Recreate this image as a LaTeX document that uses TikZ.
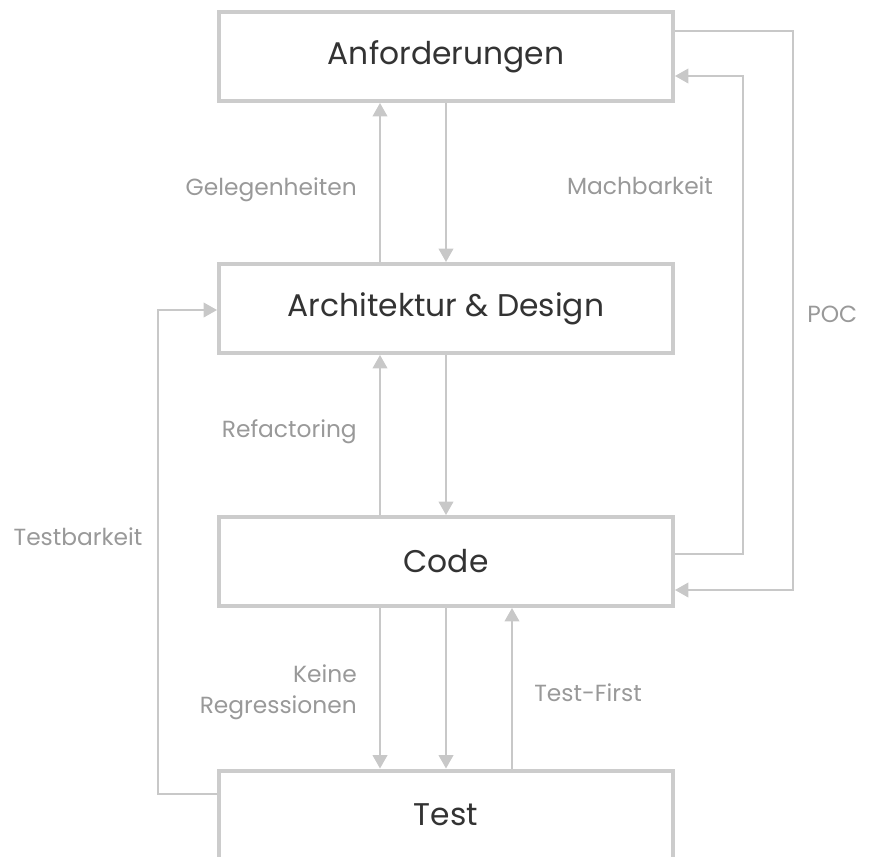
\documentclass[tikz,border=0pt]{standalone}
\usepackage{fontspec}
\setmainfont{Poppins}
\usetikzlibrary{arrows.meta,calc}

\definecolor{boxline}{RGB}{204,204,204}
\definecolor{arrowline}{RGB}{200,200,200}
\definecolor{boxtext}{RGB}{51,51,51}
\definecolor{labeltext}{RGB}{153,153,153}

\tikzset{
  stage/.style={draw=boxline, line width=3pt, fill=white, text=boxtext,
    minimum width=340.5pt, minimum height=66.75pt, inner sep=0pt,
    font=\fontsize{23.5}{28}\selectfont},
  flow/.style={draw=arrowline, line width=1.2pt,
    -{Triangle[length=10pt,width=11pt]}},
  tag/.style={text=labeltext, inner sep=0.75pt, font=\fontsize{17.5}{23}\selectfont}
}

\begin{document}
\begin{tikzpicture}[x=0.75pt,y=0.75pt,yscale=-1,xscale=1]
    \useasboundingbox (0,0) rectangle (869,857);

    % Stages
    \node [stage] (anf) at (446,56.5) {Anforderungen};
    \node [stage] (arch) at (446,308.5) {Architektur \& Design};
    \node [stage] (code) at (446,561.5) {Code};
    \node [stage] (test) at (446,815) {Test};

    % Anforderungen <-> Architektur
    \draw [flow] ($(arch.north)+(-66,0)$) -- ($(anf.south)+(-66,0)$);
    \draw [flow] (anf.south) -- (arch.north);
    % Architektur <-> Code
    \draw [flow] ($(code.north)+(-66,0)$) -- ($(arch.south)+(-66,0)$);
    \draw [flow] (arch.south) -- (code.north);
    % Code <-> Test
    \draw [flow] ($(code.south)+(-66,0)$) -- ($(test.north)+(-66,0)$);
    \draw [flow] (code.south) -- (test.north);
    \draw [flow] ($(test.north)+(66,0)$) -- ($(code.south)+(66,0)$);

    % Rueckkopplungen rechts
    \draw [flow] ($(code.east)+(0,-7.5)$) -| (743,76) -- ($(anf.east)+(0,19.5)$);
    \draw [flow] ($(anf.east)+(0,-25.5)$) -| (793,590) -- ($(code.east)+(0,28.5)$);
    % Testbarkeit links
    \draw [flow] ($(test.west)+(0,-21)$) -| (158,310) -- ($(arch.west)+(0,1.5)$);

    % Text Node
    \node [tag, anchor=east] (gel) at (358,190) {Gelegenheiten};
    \node [tag] (mach) at (640,186) {Machbarkeit};
    \node [tag, anchor=west] (poc) at (806,314) {POC};
    \node [tag, anchor=east] (refac) at (358,432) {Refactoring};
    \node [tag] (testb) at (78,537) {Testbarkeit};
    \node [tag, anchor=east, align=right] (regr) at (358,692) {Keine\\Regressionen};
    \node [tag, anchor=west] (tfirst) at (533,693) {Test-First};

\end{tikzpicture}
\end{document}
